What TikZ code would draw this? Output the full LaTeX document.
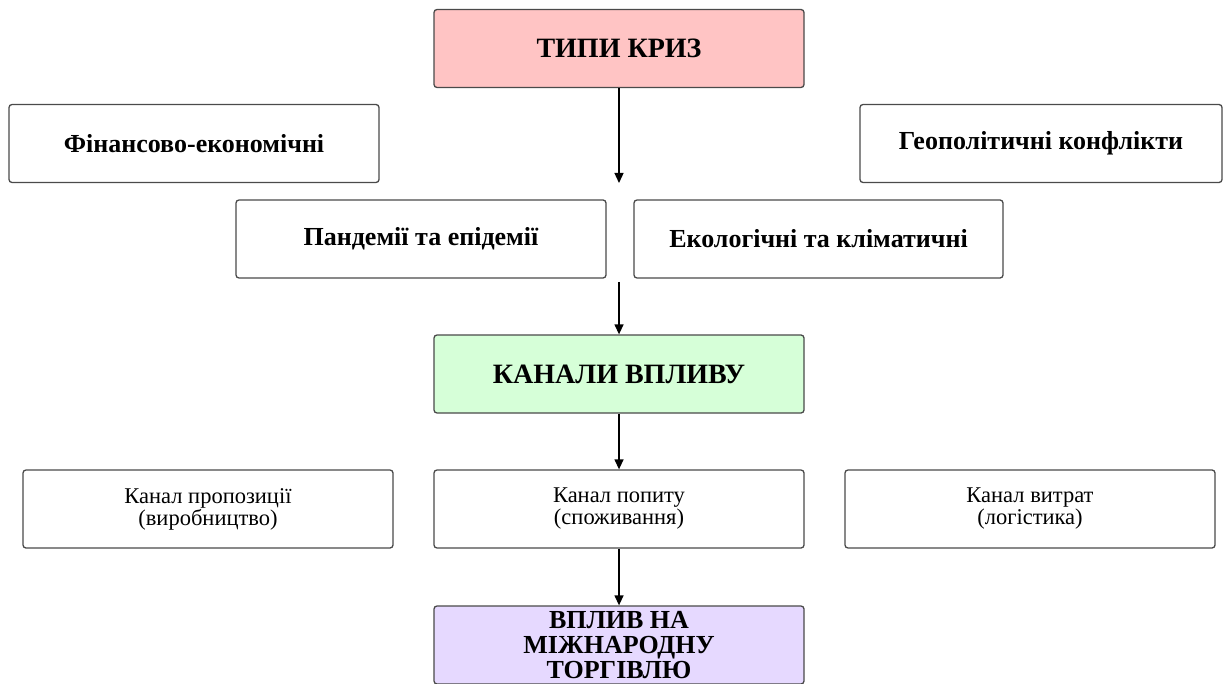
\documentclass[tikz,border=0pt]{standalone}
\usepackage{fontspec}
\setmainfont{Liberation Serif}
\usepackage{tikz}
\usetikzlibrary{arrows.meta}
\usetikzlibrary{positioning}

\definecolor{crisispink}{HTML}{FFC4C4}
\definecolor{channelgreen}{HTML}{D6FFD8}
\definecolor{impactlilac}{HTML}{E6D9FF}
\definecolor{boxgray}{HTML}{4A4A4A}

\begin{document}
\begin{tikzpicture}[x=1pt, y=-1pt,
		box/.style={draw=boxgray, line width=1.3pt, rounded corners=3pt, inner sep=2pt, align=center, minimum height=78pt},
		headbox/.style={box, minimum width=370pt, font=\fontsize{28}{25}\selectfont\bfseries},
		typebox/.style={box, font=\fontsize{26}{26}\selectfont\bfseries},
		chanbox/.style={box, minimum width=370pt, font=\fontsize{22.5}{22}\selectfont},
		flow/.style={line width=1.3pt, -{Triangle[length=10pt,width=9pt]}}]
			\useasboundingbox (0,0) rectangle (1230,684);
			
			\node[headbox, fill=crisispink] (types) at (619,48.5) {ТИПИ КРИЗ};
			
			\node[typebox, minimum width=370pt] (finance) at (194,143.5) {Фінансово-економічні};
			\node[typebox, minimum width=362pt] (geopol) at (1041,143.5) {Геополітичні конфлікти};
			\node[typebox, minimum width=370pt] (pandemic) at (421,239) {Пандемії та епідемії};
			\node[typebox, minimum width=369pt] (ecology) at (818.5,239) {Екологічні та кліматичні};
			
			\node[headbox, fill=channelgreen] (channels) at (619,374) {КАНАЛИ ВПЛИВУ};
			
			\node[chanbox] (supply) at (208,509) {Канал пропозиції\\(виробництво)};
			\node[chanbox] (demand) at (619,509) {Канал попиту\\(споживання)};
			\node[chanbox] (costs) at (1030,509) {Канал витрат\\(логістика)};
			
			\node[headbox, fill=impactlilac, font=\fontsize{26}{25}\selectfont\bfseries] (impact) at (619,645) {ВПЛИВ НА\\МІЖНАРОДНУ\\ТОРГІВЛЮ};
			
			\coordinate (typesend) at (619,183);
			\coordinate (typesout) at (619,282);
			
			\draw[flow] (types) -- (typesend);
			\draw[flow] (typesout) -- (channels);
			\draw[flow] (channels) -- (demand);
			\draw[flow] (demand) -- (impact);
		\end{tikzpicture}
\end{document}
